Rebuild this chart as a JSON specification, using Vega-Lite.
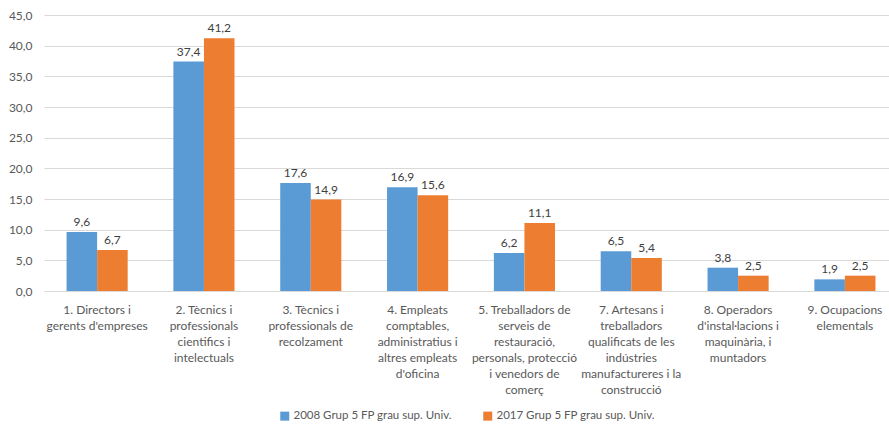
{
  "$schema": "https://vega.github.io/schema/vega-lite/v6.json",
  "width": 889,
  "height": 427,
  "autosize": {"type": "fit", "contains": "padding"},
  "padding": {"left": 8, "right": 0, "top": 9, "bottom": 5},
  "background": "white",
  "config": {
    "locale": {"number": {"decimal": ",", "thousands": ".", "grouping": [3], "currency": ["", " €"]}},
    "font": "Lato",
    "view": {"stroke": null},
    "legend": {"layout": {"bottom": {"anchor": "middle"}}}
  },
  "data": {
    "values": [
      {"cat": "1. Directors i|gerents d'empreses", "serie": "2008 Grup 5 FP grau sup. Univ.", "v": 9.6},
      {"cat": "1. Directors i|gerents d'empreses", "serie": "2017 Grup 5 FP grau sup. Univ.", "v": 6.7},
      {"cat": "2. Tècnics i|professionals|cientifics i|intelectuals", "serie": "2008 Grup 5 FP grau sup. Univ.", "v": 37.4},
      {"cat": "2. Tècnics i|professionals|cientifics i|intelectuals", "serie": "2017 Grup 5 FP grau sup. Univ.", "v": 41.2},
      {"cat": "3. Tècnics i|professionals de|recolzament", "serie": "2008 Grup 5 FP grau sup. Univ.", "v": 17.6},
      {"cat": "3. Tècnics i|professionals de|recolzament", "serie": "2017 Grup 5 FP grau sup. Univ.", "v": 14.9},
      {"cat": "4. Empleats|comptables,|administratius i|altres empleats|d'oficina", "serie": "2008 Grup 5 FP grau sup. Univ.", "v": 16.9},
      {"cat": "4. Empleats|comptables,|administratius i|altres empleats|d'oficina", "serie": "2017 Grup 5 FP grau sup. Univ.", "v": 15.6},
      {"cat": "5. Treballadors de|serveis de|restauració,|personals, protecció|i venedors de|comerç", "serie": "2008 Grup 5 FP grau sup. Univ.", "v": 6.2},
      {"cat": "5. Treballadors de|serveis de|restauració,|personals, protecció|i venedors de|comerç", "serie": "2017 Grup 5 FP grau sup. Univ.", "v": 11.1},
      {"cat": "7. Artesans i|treballadors|qualificats de les|indústries|manufactureres i la|construcció", "serie": "2008 Grup 5 FP grau sup. Univ.", "v": 6.5},
      {"cat": "7. Artesans i|treballadors|qualificats de les|indústries|manufactureres i la|construcció", "serie": "2017 Grup 5 FP grau sup. Univ.", "v": 5.4},
      {"cat": "8. Operadors|d'instal·lacions i|maquinària, i|muntadors", "serie": "2008 Grup 5 FP grau sup. Univ.", "v": 3.8},
      {"cat": "8. Operadors|d'instal·lacions i|maquinària, i|muntadors", "serie": "2017 Grup 5 FP grau sup. Univ.", "v": 2.5},
      {"cat": "9. Ocupacions|elementals", "serie": "2008 Grup 5 FP grau sup. Univ.", "v": 1.9},
      {"cat": "9. Ocupacions|elementals", "serie": "2017 Grup 5 FP grau sup. Univ.", "v": 2.5}
    ]
  },
  "encoding": {
    "x": {
      "field": "cat", "type": "nominal", "sort": null,
      "scale": {"paddingInner": 0.428, "paddingOuter": 0.169, "align": 0.625},
      "axis": {
        "title": null, "labelAngle": 0, "ticks": false,
        "domainColor": "#D9D9D9", "labelColor": "#595959", "labelFontSize": 12,
        "labelLineHeight": 16, "labelPadding": 13, "labelBaseline": "top",
        "labelExpr": "split(datum.label, '|')", "labelLimit": 200
      }
    },
    "xOffset": {"field": "serie", "type": "nominal"},
    "y": {
      "field": "v", "type": "quantitative",
      "scale": {"domain": [0, 45]},
      "axis": {
        "title": null, "values": [0, 5, 10, 15, 20, 25, 30, 35, 40, 45], "format": ".1f",
        "domain": false, "ticks": false, "gridColor": "#D9D9D9",
        "labelColor": "#595959", "labelFontSize": 12, "labelPadding": 12
      }
    }
  },
  "layer": [
    {
      "mark": {"type": "bar"},
      "encoding": {
        "color": {
          "field": "serie", "type": "nominal",
          "scale": {"range": ["#5B9BD5", "#ED7D31"]},
          "legend": {
            "title": null, "orient": "bottom", "direction": "horizontal",
            "symbolType": "square", "symbolSize": 81, "symbolStrokeWidth": 0,
            "labelFontSize": 11.5, "labelColor": "#595959", "columnPadding": 30,
            "labelOffset": 3, "labelLimit": 0, "offset": 15
          }
        }
      }
    },
    {
      "mark": {"type": "text", "dy": -10, "fontSize": 12, "color": "#404040"},
      "encoding": {"text": {"field": "v", "type": "quantitative", "format": ".1f"}}
    }
  ]
}
